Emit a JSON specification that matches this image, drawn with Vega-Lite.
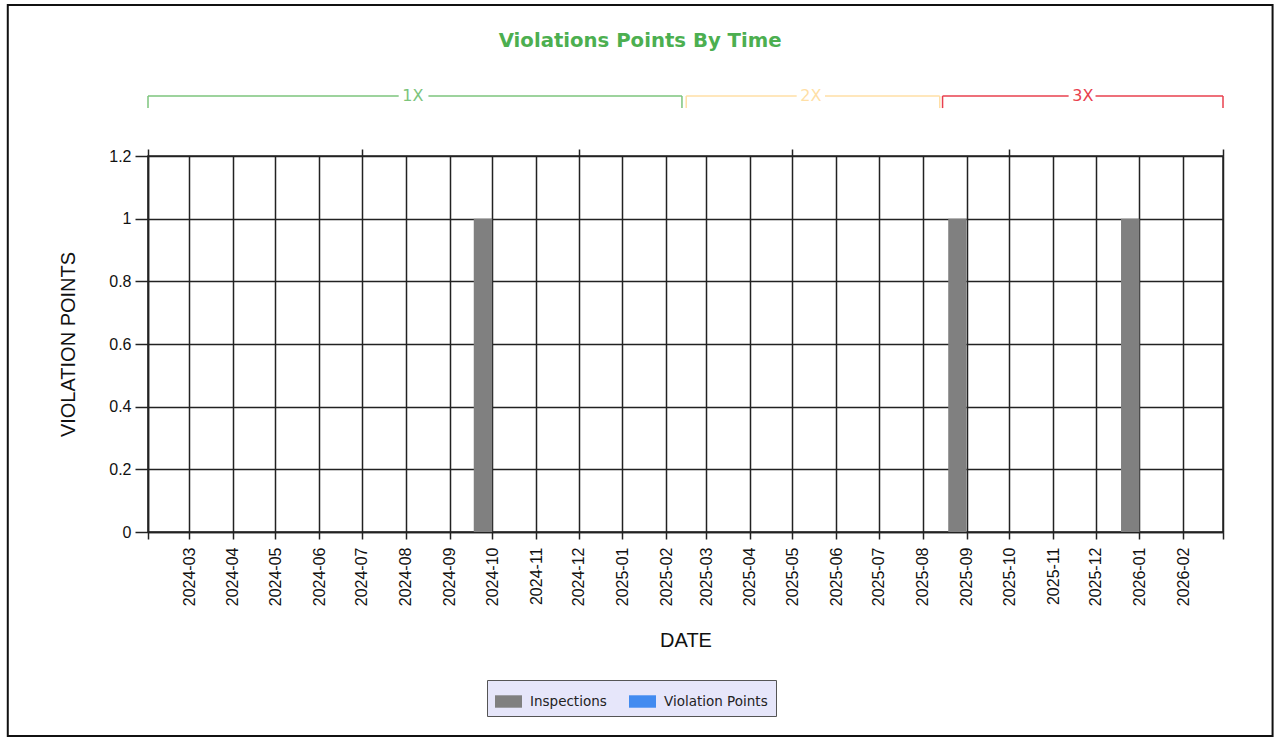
{
  "$schema": "https://vega.github.io/schema/vega-lite/v6.json",
  "autosize": "none",
  "width": 1075,
  "height": 376,
  "padding": {"left": 148, "top": 156, "right": 53, "bottom": 205},
  "background": "white",
  "title": {
    "text": "Violations Points By Time",
    "color": "#4caf50",
    "font": "DejaVu Sans",
    "fontSize": 19.7,
    "fontWeight": "bold",
    "anchor": "middle",
    "frame": "bounds",
    "offset": -47
  },
  "resolve": {"axis": {"x": "independent"}},
  "layer": [
    {
      "data": {"values": [
        {"start": "2024-09-18", "end": "2024-10-01", "series": "Inspections", "value": 1},
        {"start": "2024-10-01", "end": "2024-10-14", "series": "Violation Points", "value": 0},
        {"start": "2025-08-19", "end": "2025-09-01", "series": "Inspections", "value": 1},
        {"start": "2025-09-01", "end": "2025-09-14", "series": "Violation Points", "value": 0},
        {"start": "2025-12-19", "end": "2026-01-01", "series": "Inspections", "value": 1},
        {"start": "2026-01-01", "end": "2026-01-14", "series": "Violation Points", "value": 0}
      ]},
      "mark": {"type": "rect"},
      "encoding": {
        "x": {
          "field": "start", "type": "temporal",
          "scale": {"type": "utc", "domain": [{"year": 2024, "month": 2, "date": 1, "utc": true}, {"year": 2026, "month": 3, "date": 1, "utc": true}]},
          "axis": {
            "orient": "bottom",
            "title": "DATE",
            "tickCount": {"interval": "month", "step": 1},
            "labelExpr": "(utcyear(datum.value) == 2024 && utcmonth(datum.value) == 1) || (utcyear(datum.value) == 2026 && utcmonth(datum.value) == 2) ? '' : utcFormat(datum.value, '%Y-%m')",
            "labelAngle": -90,
            "labelOverlap": false,
            "labelFlush": false,
            "tickSize": 7,
            "labelPadding": 8,
            "titlePadding": 25,
            "grid": true
          }
        },
        "x2": {"field": "end"},
        "y": {
          "field": "value", "type": "quantitative",
          "scale": {"domain": [0, 1.2], "nice": false},
          "axis": {
            "title": "VIOLATION POINTS",
            "values": [0, 0.2, 0.4, 0.6, 0.8, 1, 1.2],
            "format": "~g",
            "tickSize": 13,
            "labelPadding": 4,
            "titlePadding": 30,
            "grid": true
          }
        },
        "y2": {"datum": 0},
        "color": {
          "field": "series", "type": "nominal",
          "scale": {"domain": ["Inspections", "Violation Points"], "range": ["#808080", "#428bf0"]},
          "legend": {"title": null}
        }
      }
    },
    {
      "data": {"values": [
        {"bracket": "1X", "s": "2024-02-01", "e": "2024-07-27"},
        {"bracket": "1X", "s": "2024-08-17", "e": "2025-02-12"},
        {"bracket": "2X", "s": "2025-02-15", "e": "2025-05-04"},
        {"bracket": "2X", "s": "2025-05-24", "e": "2025-08-13"},
        {"bracket": "3X", "s": "2025-08-15", "e": "2025-11-12"},
        {"bracket": "3X", "s": "2025-12-01", "e": "2026-03-01"}
      ]},
      "mark": {"type": "rule", "strokeWidth": 1.5, "clip": false},
      "encoding": {
        "x": {"field": "s", "type": "temporal", "axis": null},
        "x2": {"field": "e"},
        "y": {"datum": 1.3915, "type": "quantitative"},
        "stroke": {
          "field": "bracket", "type": "nominal",
          "scale": {"domain": ["1X", "2X", "3X"], "range": ["#7cc47c", "#ffdfa6", "#e8404e"]},
          "legend": null
        }
      }
    },
    {
      "data": {"values": [
        {"bracket": "1X", "d": "2024-02-01"},
        {"bracket": "1X", "d": "2025-02-12"},
        {"bracket": "2X", "d": "2025-02-15"},
        {"bracket": "2X", "d": "2025-08-13"},
        {"bracket": "3X", "d": "2025-08-15"},
        {"bracket": "3X", "d": "2026-03-01"}
      ]},
      "mark": {"type": "rule", "strokeWidth": 1.5, "clip": false},
      "encoding": {
        "x": {
          "field": "d", "type": "temporal",
          "axis": {
            "orient": "top",
            "title": null,
            "labels": false,
            "domain": false,
            "grid": false,
            "tickSize": 7,
            "values": [
              {"year": 2024, "month": 2, "date": 1, "utc": true},
              {"year": 2024, "month": 7, "date": 1, "utc": true},
              {"year": 2024, "month": 12, "date": 1, "utc": true},
              {"year": 2025, "month": 5, "date": 1, "utc": true},
              {"year": 2025, "month": 10, "date": 1, "utc": true},
              {"year": 2026, "month": 3, "date": 1, "utc": true}
            ]
          }
        },
        "y": {"datum": 1.353, "type": "quantitative"},
        "y2": {"datum": 1.3915},
        "stroke": {"field": "bracket", "type": "nominal", "legend": null}
      }
    },
    {
      "data": {"values": [
        {"bracket": "1X", "d": "2024-08-06"},
        {"bracket": "2X", "d": "2025-05-14"},
        {"bracket": "3X", "d": "2025-11-22"}
      ]},
      "mark": {"type": "text", "font": "DejaVu Sans", "fontSize": 16, "baseline": "middle", "align": "center", "clip": false},
      "encoding": {
        "x": {"field": "d", "type": "temporal", "axis": null},
        "y": {"datum": 1.3915, "type": "quantitative"},
        "text": {"field": "bracket"},
        "fill": {
          "field": "bracket", "type": "nominal",
          "scale": {"domain": ["1X", "2X", "3X"], "range": ["#7cc47c", "#ffdfa6", "#e8404e"]},
          "legend": null
        }
      }
    },
    {
      "data": {"values": [{}]},
      "mark": {"type": "rect", "filled": false, "color": "#111", "strokeWidth": 2, "clip": false},
      "encoding": {
        "x": {"datum": {"year": 2023, "month": 10, "date": 25, "utc": true}, "type": "temporal", "axis": null},
        "x2": {"datum": {"year": 2026, "month": 4, "date": 5, "utc": true}},
        "y": {"datum": 1.682, "type": "quantitative"},
        "y2": {"datum": -0.651}
      }
    }
  ],
  "config": {
    "view": {"stroke": "#222", "strokeWidth": 1.5},
    "axis": {
      "labelFont": "Liberation Sans",
      "labelFontSize": 16,
      "labelColor": "#111",
      "titleFont": "Liberation Sans",
      "titleFontSize": 20,
      "titleFontWeight": "normal",
      "titleColor": "#111",
      "gridColor": "#222",
      "gridWidth": 1.5,
      "gridOpacity": 1,
      "tickColor": "#222",
      "tickWidth": 1.5,
      "domainColor": "#222",
      "domainWidth": 1.5
    },
    "legend": {
      "orient": "none",
      "legendX": 339,
      "legendY": 524,
      "direction": "horizontal",
      "fillColor": "#e6e6fa",
      "strokeColor": "#555",
      "padding": 8,
      "symbolType": "M-1,-0.46H1V0.46H-1Z",
      "symbolSize": 729,
      "symbolStrokeWidth": 0,
      "labelFont": "DejaVu Sans",
      "labelFontSize": 13.5,
      "labelColor": "#222",
      "columnPadding": 22,
      "labelOffset": 8
    }
  }
}
